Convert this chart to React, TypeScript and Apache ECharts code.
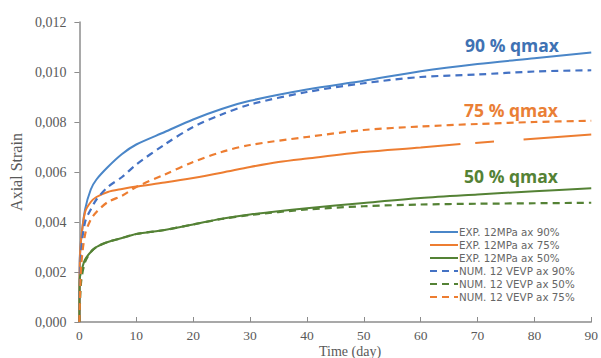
import React, { useEffect, useRef } from "react";
import * as echarts from "echarts";

const xTicks = [0, 10, 20, 30, 40, 50, 60, 70, 80, 90];
const yTicks = [0, 0.002, 0.004, 0.006, 0.008, 0.01, 0.012];

const seriesNames = [
  "EXP. 12MPa ax 90%",
  "EXP. 12MPa ax 75%",
  "EXP. 12MPa ax 50%",
  "NUM. 12 VEVP ax 90%",
  "NUM. 12 VEVP ax 50%",
  "NUM. 12 VEVP ax 75%",
];

const exp90: (number | string)[][] = [
  [0, 0], [0.05, 0.0024], [0.3, 0.0033], [1, 0.0045], [2, 0.0053], [3, 0.0057], [5, 0.0062],
  [7.5, 0.00672], [10, 0.0071], [15, 0.0076], [20, 0.0081], [25, 0.00852], [30, 0.00885],
  [40, 0.0093], [50, 0.00965], [60, 0.01003], [70, 0.01032], [80, 0.01055], [90, 0.01078],
];
const exp75: (number | string)[][] = [
  [0, 0], [0.05, 0.0022], [0.3, 0.0033], [1, 0.0044], [2, 0.0048], [3, 0.005], [5, 0.0052],
  [7.5, 0.00532], [10, 0.00542], [15, 0.00558], [20, 0.00576], [25, 0.00597], [30, 0.0062],
  [35, 0.0064], [40, 0.00654], [50, 0.0068], [60, 0.00698], [67, 0.00712], [68, "-"],
  [69.6, 0.00716], [72.9, 0.00722], [75, "-"], [78.1, 0.0073], [90, 0.0075],
];
const exp50: (number | string)[][] = [
  [0, 0], [0.05, 0.0017], [0.3, 0.002], [1, 0.0025], [2, 0.0028], [3, 0.003], [5, 0.0032],
  [7.5, 0.00336], [10, 0.00352], [15, 0.00368], [20, 0.0039], [25, 0.00413], [30, 0.0043],
  [40, 0.00455], [50, 0.00476], [60, 0.00496], [70, 0.0051], [80, 0.00523], [90, 0.00535],
];
const num90: (number | string)[][] = [
  [0, 0], [0.3, 0.0028], [1, 0.004], [2, 0.0045], [3, 0.0049], [5, 0.0054], [7.5, 0.0058],
  [10, 0.0063], [15, 0.0071], [20, 0.0078], [25, 0.0083], [30, 0.0087], [40, 0.0092],
  [50, 0.00955], [60, 0.0098], [70, 0.0099], [80, 0.01002], [90, 0.01007],
];
const num50: (number | string)[][] = [
  [0, 0], [0.3, 0.0016], [1, 0.0024], [2, 0.0028], [3, 0.003], [5, 0.0032], [7.5, 0.00336],
  [10, 0.00352], [15, 0.00368], [20, 0.0039], [25, 0.00412], [30, 0.00428], [40, 0.0045],
  [50, 0.00463], [60, 0.0047], [70, 0.00473], [80, 0.00475], [90, 0.00477],
];
const num75: (number | string)[][] = [
  [0, 0], [0.3, 0.0022], [1, 0.0035], [2, 0.0041], [3, 0.0044], [5, 0.0048], [7.5, 0.00505],
  [10, 0.0054], [15, 0.0059], [20, 0.0064], [25, 0.0068], [30, 0.00708], [40, 0.0074],
  [50, 0.00768], [60, 0.00782], [70, 0.00792], [80, 0.008], [90, 0.00805],
];

const annotations = [
  { text: "90 % qmax", color: "#3f72b3", x: 512, y: 45 },
  { text: "75 % qmax", color: "#ea7f36", x: 511, y: 110 },
  { text: "50 % qmax", color: "#548235", x: 511, y: 176 },
];

const BLUE = "#4a86c8";
const BLUE_D = "#4472c4";
const ORANGE = "#ed7d31";
const GREEN = "#548235";

export default function App() {
  const ref = useRef<HTMLDivElement>(null);
  useEffect(() => {
    if (!ref.current) return;
    const chart = echarts.init(ref.current, undefined, { renderer: "svg" });
    const dash = [7, 5];
    const mk = (name: string, data: any[], color: string, dashed: boolean) => ({
      name,
      type: "line",
      data,
      smooth: 0.3,
      symbol: "none",
      connectNulls: false,
      lineStyle: { color, width: dashed ? 2.2 : 2, type: dashed ? dash : "solid" },
      itemStyle: { color },
    });
    chart.setOption({
      animation: false,
      backgroundColor: "#ffffff",
      grid: { left: 76, right: 5.5, top: 22, bottom: 36, containLabel: false },
      xAxis: {
        type: "value",
        min: xTicks[0],
        max: xTicks[xTicks.length - 1],
        interval: 10,
        splitLine: { show: false },
        axisLine: { show: true, lineStyle: { color: "#8c8c8c", width: 1.5 } },
        axisTick: { show: true, inside: true, length: 5, lineStyle: { color: "#8c8c8c" } },
        axisLabel: {
          margin: 6,
          color: "#595959",
          fontFamily: "Liberation Serif",
          fontSize: 13.5,
        },
      },
      yAxis: {
        type: "value",
        min: yTicks[0],
        max: yTicks[yTicks.length - 1],
        interval: 0.002,
        name: "Axial Strain",
        nameLocation: "middle",
        nameGap: 49,
        nameTextStyle: { color: "#595959", fontFamily: "Liberation Serif", fontSize: 16 },
        splitLine: { show: false },
        axisLine: { show: true, lineStyle: { color: "#8c8c8c", width: 1.5 } },
        axisTick: { show: true, inside: false, length: 5, lineStyle: { color: "#8c8c8c" } },
        axisLabel: {
          margin: 13,
          color: "#595959",
          fontFamily: "Liberation Serif",
          fontSize: 14,
          formatter: (v: number) => v.toFixed(3).replace(".", ","),
        },
      },
      legend: {
        orient: "vertical",
        left: 424,
        top: 222,
        itemWidth: 28,
        itemHeight: 12,
        itemGap: 3,
        data: seriesNames,
        itemStyle: { opacity: 0 },
        textStyle: { color: "#666666", fontFamily: "DejaVu Sans", fontSize: 10.3, padding: [0, 0, 0, -4] },
      },
      graphic: [
        ...annotations.map((a) => ({
          type: "text",
          x: a.x,
          y: a.y,
          style: {
            text: a.text,
            fill: a.color,
            font: "bold 17.5px 'Open Sans'",
            textAlign: "center",
            textVerticalAlign: "middle",
          },
          z: 100,
        })),
        {
          type: "text",
          x: 350,
          y: 351,
          style: {
            text: "Time (day)",
            fill: "#595959",
            font: "14px 'Liberation Serif'",
            textAlign: "center",
            textVerticalAlign: "middle",
          },
        },
      ],
      series: [
        mk(seriesNames[0], exp90, BLUE, false),
        mk(seriesNames[1], exp75, ORANGE, false),
        mk(seriesNames[2], exp50, GREEN, false),
        mk(seriesNames[3], num90, BLUE_D, true),
        mk(seriesNames[4], num50, GREEN, true),
        mk(seriesNames[5], num75, ORANGE, true),
      ],
    });
    return () => chart.dispose();
  }, []);
  return (
    <div
      ref={ref}
      style={{ position: "fixed", left: 0, top: 0, width: 601, height: 358, background: "#fff" }}
    />
  );
}
